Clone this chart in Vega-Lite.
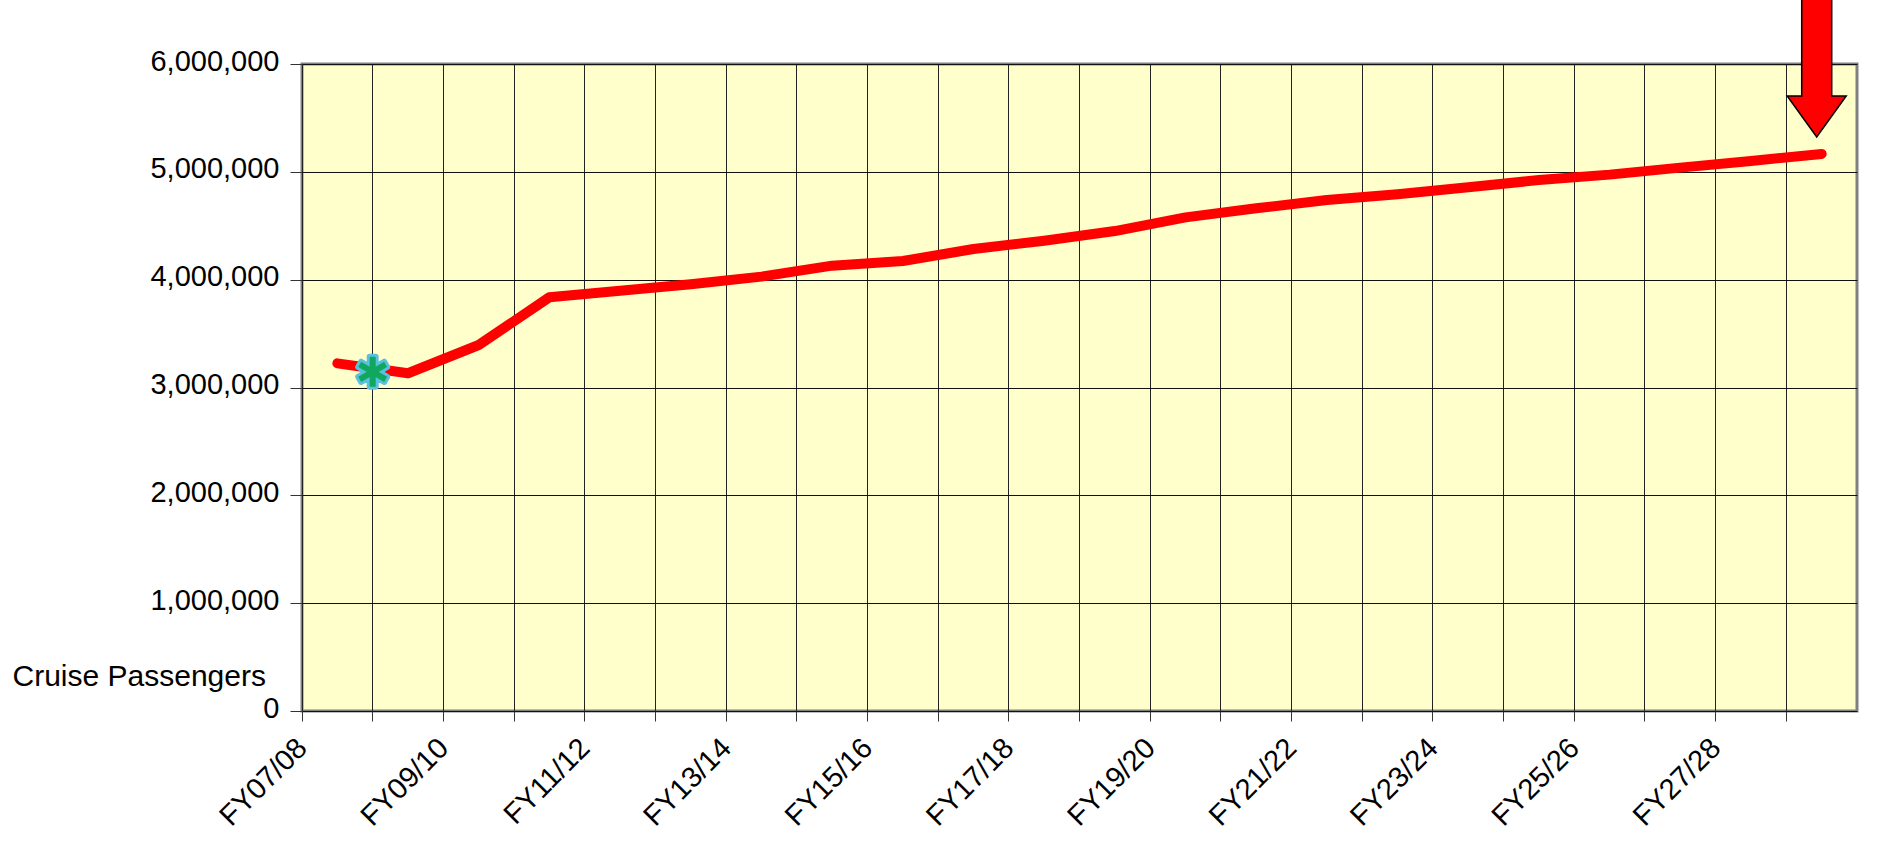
{
  "$schema": "https://vega.github.io/schema/vega-lite/v6.json",
  "width": 1555,
  "height": 647,
  "autosize": {"type": "none"},
  "padding": {"left": 302, "top": 64, "right": 29, "bottom": 151},
  "background": "white",
  "config": {
    "view": {"fill": "#FFFFCC", "stroke": "#808080", "strokeWidth": 3},
    "font": "Liberation Sans"
  },
  "datasets": {
    "series": [
      {"fy": "FY07/08", "passengers": 3224000},
      {"fy": "FY08/09", "passengers": 3132000},
      {"fy": "FY09/10", "passengers": 3394000},
      {"fy": "FY10/11", "passengers": 3837000},
      {"fy": "FY11/12", "passengers": 3898000},
      {"fy": "FY12/13", "passengers": 3957000},
      {"fy": "FY13/14", "passengers": 4028000},
      {"fy": "FY14/15", "passengers": 4130000},
      {"fy": "FY15/16", "passengers": 4173000},
      {"fy": "FY16/17", "passengers": 4284000},
      {"fy": "FY17/18", "passengers": 4361000},
      {"fy": "FY18/19", "passengers": 4451000},
      {"fy": "FY19/20", "passengers": 4578000},
      {"fy": "FY20/21", "passengers": 4662000},
      {"fy": "FY21/22", "passengers": 4739000},
      {"fy": "FY22/23", "passengers": 4792000},
      {"fy": "FY23/24", "passengers": 4857000},
      {"fy": "FY24/25", "passengers": 4924000},
      {"fy": "FY25/26", "passengers": 4974000},
      {"fy": "FY26/27", "passengers": 5039000},
      {"fy": "FY27/28", "passengers": 5101000},
      {"fy": "FY28/29", "passengers": 5166000}
    ],
    "marker": [{"fy": "FY08/09", "passengers": 3145000}],
    "arrow": [{"fy": "FY28/29", "passengers": 6065000}]
  },
  "layer": [
    {
      "data": {"name": "series"},
      "mark": {"type": "line", "color": "#FF0000", "strokeWidth": 10, "strokeCap": "round", "strokeJoin": "round"},
      "encoding": {
        "x": {
          "field": "fy",
          "type": "ordinal",
          "scale": {"type": "band", "paddingInner": 0, "paddingOuter": 0},
          "axis": {
            "title": null,
            "bandPosition": 0,
            "grid": true,
            "gridColor": "#222222",
            "gridWidth": 1,
            "domain": false,
            "ticks": true,
            "tickSize": 10,
            "tickColor": "#333333",
            "tickWidth": 1,
            "labelAngle": -45,
            "labelAlign": "right",
            "labelBaseline": "middle",
            "labelPadding": 22,
            "labelOffset": -35,
            "labelFontSize": 29,
            "labelColor": "#000000",
            "labelFont": "Liberation Sans",
            "labelOverlap": false,
            "labelBound": false,
            "labelExpr": "toNumber(substring(datum.label, 2, 4)) % 2 == 1 ? datum.label : ''"
          }
        },
        "y": {
          "field": "passengers",
          "type": "quantitative",
          "scale": {"domain": [0, 6000000], "nice": false},
          "axis": {
            "title": "Cruise Passengers",
            "titleAngle": 0,
            "titleAlign": "left",
            "titleBaseline": "middle",
            "titleX": -290,
            "titleY": 612,
            "titleFontSize": 30,
            "titleFontWeight": "normal",
            "titleFont": "Liberation Sans",
            "titleColor": "#000000",
            "values": [0, 1000000, 2000000, 3000000, 4000000, 5000000, 6000000],
            "format": ",.0f",
            "grid": true,
            "gridColor": "#111111",
            "gridWidth": 1,
            "domain": false,
            "tickSize": 12,
            "tickColor": "#333333",
            "labelPadding": 11,
            "labelFontSize": 29,
            "labelColor": "#000000",
            "labelFont": "Liberation Sans",
            "labelOffset": -3,
            "labelFlush": false,
            "labelBound": false,
            "labelOverlap": false
          }
        }
      }
    },
    {
      "data": {"name": "marker"},
      "mark": {
        "type": "point",
        "shape": "M-0.2,-1L0.2,-1L0.2,1L-0.2,1ZM-0.966,-0.3268L-0.766,-0.6732L0.966,0.3268L0.766,0.6732ZM-0.766,0.6732L-0.966,0.3268L0.766,-0.6732L0.966,-0.3268Z",
        "size": 900,
        "filled": true,
        "fill": "#5BC0DE",
        "stroke": "#5BC0DE",
        "strokeWidth": 6,
        "strokeJoin": "round",
        "opacity": 1
      },
      "encoding": {
        "x": {"field": "fy", "type": "ordinal", "bandPosition": 0},
        "y": {"field": "passengers", "type": "quantitative"}
      }
    },
    {
      "data": {"name": "marker"},
      "mark": {
        "type": "point",
        "shape": "M-0.2,-1L0.2,-1L0.2,1L-0.2,1ZM-0.966,-0.3268L-0.766,-0.6732L0.966,0.3268L0.766,0.6732ZM-0.766,0.6732L-0.966,0.3268L0.766,-0.6732L0.966,-0.3268Z",
        "size": 900,
        "filled": true,
        "fill": "#10A860",
        "strokeWidth": 0,
        "opacity": 1
      },
      "encoding": {
        "x": {"field": "fy", "type": "ordinal", "bandPosition": 0},
        "y": {"field": "passengers", "type": "quantitative"}
      }
    },
    {
      "data": {"name": "arrow"},
      "mark": {
        "type": "point",
        "shape": "M-0.1875,-1L0.1875,-1L0.1875,0.4875L0.369,0.4875L0,1L-0.369,0.4875L-0.1875,0.4875Z",
        "size": 25600,
        "filled": true,
        "fill": "#FF0000",
        "stroke": "#000000",
        "strokeWidth": 1.5,
        "opacity": 1
      },
      "encoding": {
        "x": {"field": "fy", "type": "ordinal", "bandPosition": 0.43},
        "y": {"field": "passengers", "type": "quantitative"}
      }
    }
  ]
}
